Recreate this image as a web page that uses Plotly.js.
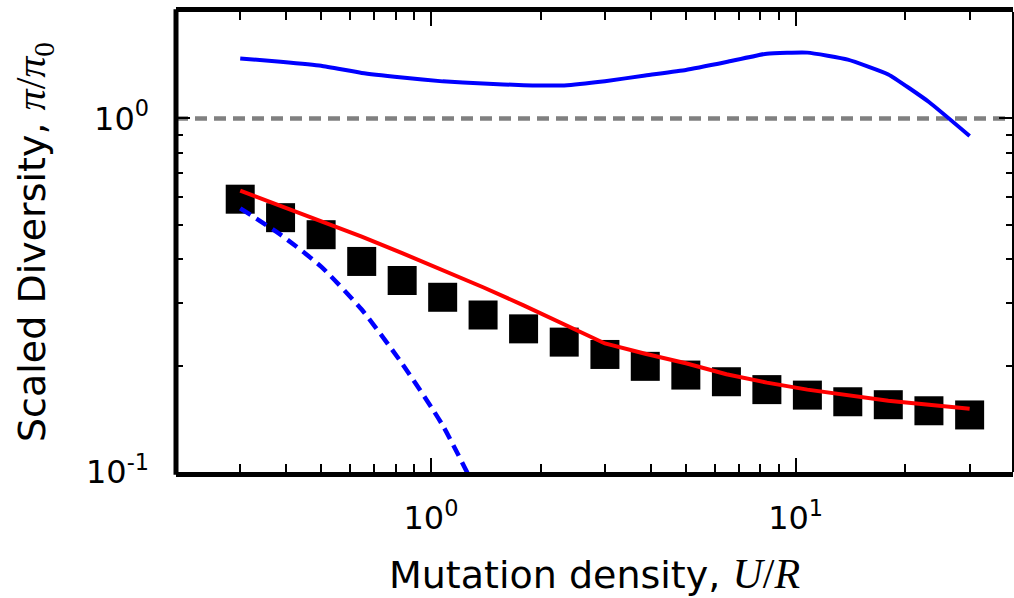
<!DOCTYPE html>
<html>
<head>
<meta charset="utf-8">
<script src="https://cdn.plot.ly/plotly-3.0.1.min.js"></script>
<style>
  html, body { margin: 0; padding: 0; background: #fff; }
  #chart { width: 1014px; height: 598px; }
</style>
</head>
<body>
<div id="chart"></div>
<script>
// Mutation density U/R (x positions of the samples)
const mutationDensity = [0.3, 0.387, 0.5, 0.646, 0.834, 1.077, 1.39, 1.795, 2.32, 3.0,
                         3.87, 5.0, 6.46, 8.34, 10.77, 13.9, 17.95, 23.2, 30.0];
// Simulation results (black squares)
const simulated = [0.591, 0.524, 0.469, 0.394, 0.348, 0.312, 0.278, 0.254, 0.233, 0.215,
                   0.199, 0.188, 0.180, 0.171, 0.165, 0.158, 0.155, 0.149, 0.145];
// Theory prediction (red solid)
const theoryRed = [0.625, 0.567, 0.513, 0.463, 0.416, 0.3725, 0.333, 0.296, 0.262, 0.231,
                   0.216, 0.203, 0.189, 0.179, 0.171, 0.165, 0.159, 0.155, 0.151];
// Upper blue solid curve
const blueSolid = [1.478, 1.446, 1.409, 1.345, 1.306, 1.273, 1.255, 1.242, 1.240, 1.274,
                   1.323, 1.371, 1.444, 1.525, 1.535, 1.467, 1.332, 1.113, 0.892];
// Blue dashed curve (only first points, falls below the axis)
const blueDashedX = [0.3, 0.387, 0.5, 0.646, 0.834, 1.077, 1.39];
const blueDashed = [0.557, 0.469, 0.381, 0.288, 0.2025, 0.1355, 0.081];
// Reference level pi/pi0 = 1
const referenceLevel = 1;

const xMajor = [1, 10];
const xMajorText = ['10<sup>0</sup>', '10<sup>1</sup>'];
const xMinor = [0.3, 0.4, 0.5, 0.6, 0.7, 0.8, 0.9, 2, 3, 4, 5, 6, 7, 8, 9, 20, 30];
const yMajor = [0.1, 1];
const yMajorText = ['10<sup>-1</sup>', '10<sup>0</sup>'];
const yMinor = [0.2, 0.3, 0.4, 0.5, 0.6, 0.7, 0.8, 0.9];

const font = 'DejaVu Sans, Arial, sans-serif';
const mathSpan = s => '<span style="font-family:Liberation Serif;font-size:42px">' + s + '</span>';

const traces = [
  {
    x: mutationDensity, y: simulated, type: 'scatter', mode: 'markers',
    marker: { symbol: 'square', size: 29, color: '#000000', line: { width: 0 } },
    hoverinfo: 'skip'
  },
  {
    x: mutationDensity, y: theoryRed, type: 'scatter', mode: 'lines',
    line: { color: '#ff0000', width: 4 }
  },
  {
    x: mutationDensity, y: blueSolid, type: 'scatter', mode: 'lines',
    line: { color: '#0000ff', width: 4, shape: 'spline', smoothing: 0.4 }
  },
  {
    x: blueDashedX, y: blueDashed, type: 'scatter', mode: 'lines',
    line: { color: '#0000ff', width: 4.5, dash: '12px,7px', shape: 'spline', smoothing: 0.6 }
  }
];

const layout = {
  width: 1014, height: 598,
  margin: { l: 176, r: 1, t: 12, b: 126, pad: 0 },
  paper_bgcolor: '#ffffff', plot_bgcolor: '#ffffff',
  showlegend: false,
  font: { family: font, color: '#000000' },
  xaxis: {
    type: 'log',
    range: [Math.log10(0.2), 1.596],
    showgrid: false, zeroline: false,
    showline: true, linewidth: 5, linecolor: '#000000', mirror: 'ticks',
    ticks: 'inside', ticklen: 14, tickwidth: 2, tickcolor: '#000000',
    tickmode: 'array', tickvals: xMajor, ticktext: xMajorText,
    tickfont: { family: font, size: 32, color: '#000000' },
    ticklabelstandoff: 14,
    minor: { ticks: 'inside', ticklen: 8, tickwidth: 2, tickcolor: '#000000',
             tickmode: 'array', tickvals: xMinor, showgrid: false },
    title: { text: 'Mutation density, ' + mathSpan('<i>U</i>/<i>R</i>'),
             font: { family: font, size: 38, color: '#000000' }, standoff: 26 },
    automargin: false
  },
  yaxis: {
    type: 'log',
    range: [-1, Math.log10(2)],
    showgrid: false, zeroline: false,
    showline: false, mirror: 'ticks',
    ticks: 'inside', ticklen: 14, tickwidth: 2, tickcolor: '#000000',
    tickmode: 'array', tickvals: yMajor, ticktext: yMajorText,
    tickfont: { family: font, size: 32, color: '#000000' },
    ticklabelstandoff: 26,
    minor: { ticks: 'inside', ticklen: 7, tickwidth: 2, tickcolor: '#000000',
             tickmode: 'array', tickvals: yMinor, showgrid: false },
    title: { text: 'Scaled Diversity, ' + mathSpan('<i>π</i>/<i>π</i><sub>0</sub>'),
             font: { family: font, size: 38, color: '#000000' }, standoff: 28 },
    automargin: false
  },
  shapes: [
    { type: 'line', xref: 'paper', yref: 'y', x0: 0, x1: 1,
      y0: referenceLevel, y1: referenceLevel, layer: 'below',
      line: { color: '#808080', width: 4.5, dash: '12px,7px' } },
    { type: 'line', xref: 'paper', yref: 'paper', x0: 0, x1: 0, y0: -0.006, y1: 1.006,
      layer: 'above', line: { color: '#000000', width: 5 } },
    { type: 'line', xref: 'paper', yref: 'paper', x0: 1, x1: 1, y0: 0, y1: 1,
      layer: 'above', line: { color: '#000000', width: 2 } }
  ]
};

Plotly.newPlot('chart', traces, layout, { staticPlot: true, displayModeBar: false });
</script>
</body>
</html>
